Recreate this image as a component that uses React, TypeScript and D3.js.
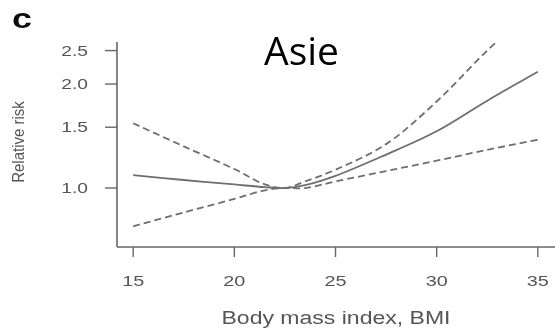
import React from "react";
import * as d3 from "d3";

// BMI grid for the restricted cubic spline fit
const bmi = [15, 17.5, 20, 21.5, 22.5, 23.5, 25, 27.5, 30, 32.5, 35];
// Relative risk estimate and 95% confidence limits
const estimate = [1.09, 1.055, 1.024, 1.006, 1.0, 1.02, 1.085, 1.25, 1.46, 1.79, 2.17];
const lower = [0.775, 0.85, 0.93, 0.985, 1.0, 1.0, 1.045, 1.12, 1.2, 1.29, 1.38];
const upper = [1.54, 1.32, 1.135, 1.025, 1.0, 1.045, 1.13, 1.34, 1.78, 2.5, 3.4];

const xTicks = [15, 20, 25, 30, 35];
const yTicks = [1.0, 1.5, 2.0, 2.5];

const W = 555;
const H = 331;
const plot = { left: 117, right: 554, top: 42, bottom: 247 };
const textColor = "#555";
const axisColor = "#666";
const lineColor = "#6e6e6e";
const stretch = 1.28;
const font = "'Liberation Sans', Arial, sans-serif";

export default function App() {
  const x = d3.scaleLinear().domain([14.2, 35.8]).range([plot.left, plot.right]);
  const y = d3.scaleLog().domain([0.675, 2.647]).range([plot.bottom, plot.top]);

  const line = (vals: number[]) =>
    d3
      .line<number>()
      .x((_, i) => x(bmi[i]))
      .y((v) => y(v))
      .curve(d3.curveCatmullRom.alpha(0.5))(vals) || "";

  return (
    <svg
      width={W}
      height={H}
      style={{ position: "absolute", left: 0, top: 0, background: "#fff" }}
    >
      <defs>
        <clipPath id="plotClip">
          <rect
            x={plot.left}
            y={plot.top}
            width={plot.right - plot.left}
            height={plot.bottom - plot.top}
          />
        </clipPath>
        <filter id="soft" x="-5%" y="-5%" width="110%" height="110%">
          <feGaussianBlur stdDeviation="0.55" />
        </filter>
      </defs>

      <g filter="url(#soft)">
        {/* panel letter */}
        <text
          transform={`translate(12,28) scale(${stretch},1)`}
          fontFamily={font}
          fontWeight="bold"
          fontSize={28}
          fill="#111"
        >
          c
        </text>

        {/* axes */}
        <line
          x1={plot.left}
          x2={plot.left}
          y1={plot.top}
          y2={plot.bottom}
          stroke={axisColor}
          strokeWidth={1.6}
        />
        <line
          x1={plot.left}
          x2={W}
          y1={plot.bottom}
          y2={plot.bottom}
          stroke={axisColor}
          strokeWidth={1.6}
        />

        {yTicks.map((t) => (
          <g key={`y${t}`}>
            <line
              x1={plot.left - 12}
              x2={plot.left}
              y1={y(t)}
              y2={y(t)}
              stroke={axisColor}
              strokeWidth={1.4}
            />
            <text
              transform={`translate(88,${y(t) + 5}) scale(${stretch},1)`}
              textAnchor="end"
              fontFamily={font}
              fontSize={15}
              fill={textColor}
            >
              {t.toFixed(1)}
            </text>
          </g>
        ))}

        {xTicks.map((t) => (
          <g key={`x${t}`}>
            <line
              x1={x(t)}
              x2={x(t)}
              y1={plot.bottom}
              y2={plot.bottom + 10}
              stroke={axisColor}
              strokeWidth={1.4}
            />
            <text
              transform={`translate(${x(t)},286) scale(${stretch},1)`}
              textAnchor="middle"
              fontFamily={font}
              fontSize={15.5}
              fill={textColor}
            >
              {t}
            </text>
          </g>
        ))}

        <text
          transform={`translate(336,324) scale(${stretch},1)`}
          textAnchor="middle"
          fontFamily={font}
          fontSize={18}
          fill={textColor}
        >
          Body mass index, BMI
        </text>

        <text
          transform={`translate(24,142) scale(1.05,1) rotate(-90)`}
          textAnchor="middle"
          fontFamily={font}
          fontSize={15}
          fill={textColor}
        >
          Relative risk
        </text>

        {/* spline curves */}
        <g clipPath="url(#plotClip)" fill="none" stroke={lineColor} strokeWidth={1.8}>
          <path d={line(upper)} strokeDasharray="7 4" />
          <path d={line(lower)} strokeDasharray="7 4" />
          <path d={line(estimate)} />
        </g>
      </g>

      <text
        x={264}
        y={65}
        fontFamily="'Open Sans', sans-serif"
        fontSize={39}
        fill="#000"
      >
        Asie
      </text>
    </svg>
  );
}
